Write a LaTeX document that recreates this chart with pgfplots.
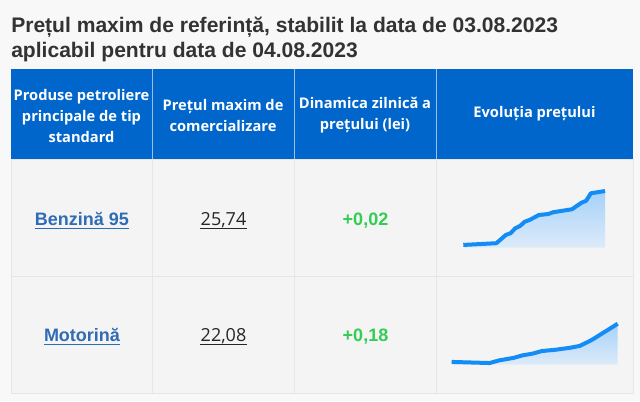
\documentclass[border=0pt]{standalone}
\usepackage{pgfplots}
\pgfplotsset{compat=1.18}
\usepackage{fontspec}
\setmainfont{Liberation Sans}
\newfontfamily\osans{Open Sans}

\definecolor{bgout}{HTML}{F8F8F8}
\definecolor{bgcell}{HTML}{F4F4F4}
\definecolor{cellline}{HTML}{E6E6E6}
\definecolor{hdrblue}{HTML}{0066CC}
\definecolor{hdrsep}{HTML}{9DBFE6}
\definecolor{titlec}{HTML}{333333}
\definecolor{linkc}{HTML}{2F6CB5}
\definecolor{greenc}{HTML}{33CC55}
\definecolor{sparkl}{HTML}{148CF5}
\definecolor{sparktop}{HTML}{A5D1F8}
\definecolor{sparkbot}{HTML}{DDEBF9}

% evolutia pretului (lei), zile
\pgfplotstableread{
x y
0  23.58
7  23.65
9  23.98
10 24.05
11 24.25
12 24.34
13 24.51
14 24.58
16 24.78
18 24.82
19 24.89
21 24.95
23 25.01
25 25.27
26 25.35
27 25.65
30 25.74
}\benzina
\pgfplotstableread{
x y
0  20.36
8  20.31
10 20.43
13 20.54
15 20.66
17 20.73
19 20.85
22 20.91
25 21.00
27 21.08
29 21.29
30 21.41
32 21.68
33 21.81
35 22.08
}\motorina

\begin{document}
\begin{tikzpicture}[x=0.75pt,y=-0.75pt]
% fundal si tabel
\fill[bgout] (0,0) rectangle (640,401);
\fill[bgcell] (11,159) rectangle (633,393);
\draw[cellline, line width=0.75pt] (11,159) rectangle (633,393);
\draw[cellline, line width=0.75pt] (11,276) -- (633,276);
\foreach \cx in {152,294,436} \draw[cellline, line width=0.75pt] (\cx,159) -- (\cx,393);
\fill[hdrblue] (11,69) rectangle (633,159);
\foreach \cx in {152,294,436} \draw[hdrsep, line width=0.75pt] (\cx,69) -- (\cx,159);

% titlu
\node[anchor=base west, inner sep=0, text=titlec, font=\bfseries\fontsize{15.8}{18}\selectfont] at (11,32) {Prețul maxim de referință, stabilit la data de 03.08.2023};
\node[anchor=base west, inner sep=0, text=titlec, font=\bfseries\fontsize{15.8}{18}\selectfont] at (11,57) {aplicabil pentru data de 04.08.2023};

% antet
\begin{scope}[every node/.style={text=white, align=center, inner sep=0, font=\osans\bfseries\fontsize{11}{15.75}\selectfont}]
\node at (81.5,116) {Produse petroliere\\principale de tip\\standard};
\node at (223,115) {Prețul maxim de\\comercializare};
\node at (365,115) {Dinamica zilnică a\\prețului (lei)};
\node at (534.5,114) {Evoluția prețului};
\end{scope}

% randuri
\begin{scope}[every node/.style={anchor=base, inner sep=0}]
\node[text=linkc, font=\bfseries\fontsize{13.5}{16}\selectfont] (b1) at (82,225) {Benzină 95};
\node[text=black!85, font=\osans\fontsize{13.5}{16}\selectfont] (p1) at (223.5,225) {25,74};
\node[text=greenc, font=\bfseries\fontsize{13.5}{16}\selectfont] at (365.5,225) {+0,02};
\node[text=linkc, font=\bfseries\fontsize{13.5}{16}\selectfont] (b2) at (82,341) {Motorină};
\node[text=black!85, font=\osans\fontsize{13.5}{16}\selectfont] (p2) at (223.5,341) {22,08};
\node[text=greenc, font=\bfseries\fontsize{13.5}{16}\selectfont] at (365.5,341) {+0,18};
\end{scope}
\draw[linkc, line width=1pt] ([yshift=-2.4pt]b1.base west) -- ([yshift=-2.4pt]b1.base east);
\draw[linkc, line width=1pt] ([yshift=-2.4pt]b2.base west) -- ([yshift=-2.4pt]b2.base east);
\draw[black!85, line width=0.9pt] ([yshift=-2.4pt]p1.base west) -- ([yshift=-2.4pt]p1.base east);
\draw[black!85, line width=0.9pt] ([yshift=-2.4pt]p2.base west) -- ([yshift=-2.4pt]p2.base east);

\coordinate (s1) at (463.3,247.7);
\coordinate (s2) at (451.7,364.7);

% grafice
\begin{axis}[at={(s1)}, anchor=south west, scale only axis,
  width=106.3pt, height=42.5pt, xmin=0, xmax=30, ymin=23.47, ymax=25.74,
  hide axis, clip=false]
\addplot[draw=none, top color=sparktop, bottom color=sparkbot] table {\benzina} \closedcycle;
\addplot[sparkl, line width=3pt, line join=round] table {\benzina};
\end{axis}
\begin{axis}[at={(s2)}, anchor=south west, scale only axis,
  width=124.5pt, height=30.75pt, xmin=0, xmax=35, ymin=20.235, ymax=22.08,
  hide axis, clip=false]
\addplot[draw=none, top color=sparktop, bottom color=sparkbot] table {\motorina} \closedcycle;
\addplot[sparkl, line width=3pt, line join=round] table {\motorina};
\end{axis}
\end{tikzpicture}
\end{document}
